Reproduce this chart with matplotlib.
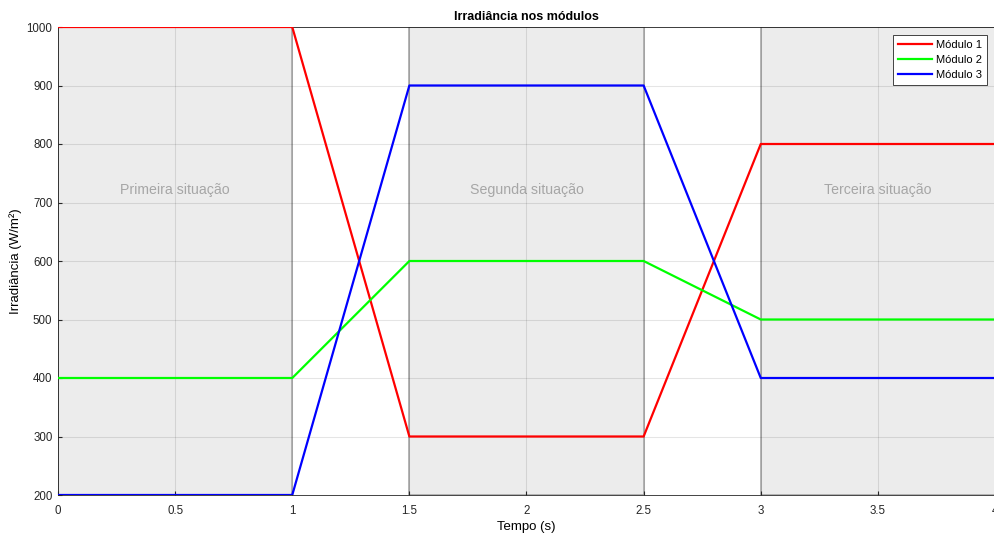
import matplotlib
matplotlib.use("Agg")
import matplotlib.pyplot as plt

plt.rcParams['font.family'] = ['Liberation Sans', 'DejaVu Sans']

# data
tempo = [0, 1, 1.5, 2.5, 3, 4]
modulo1 = [1000, 1000, 300, 300, 800, 800]
modulo2 = [400, 400, 600, 600, 500, 500]
modulo3 = [200, 200, 900, 900, 400, 400]

regioes = [(0, 1), (1.5, 2.5), (3, 4)]
situacoes = ['Primeira situação', 'Segunda situação', 'Terceira situação']

fig = plt.figure(figsize=(9.95, 5.34), dpi=100)
ax = fig.add_axes([58 / 995, 1 - 495 / 534, 1 - 58 / 995, (495 - 27) / 534])

for (a, b), nome in zip(regioes, situacoes):
    ax.axvspan(a, b, facecolor='#ececec', edgecolor='#a8a8a8', linewidth=1.2, zorder=0)
    ax.text((a + b) / 2, 722, nome, ha='center', va='center', fontsize=10.2,
            color='#a6a6a6', zorder=1)

ax.plot(tempo, modulo1, color='#ff0000', linewidth=1.6, label='Módulo 1', zorder=3)
ax.plot(tempo, modulo2, color='#00ff00', linewidth=1.6, label='Módulo 2', zorder=3)
ax.plot(tempo, modulo3, color='#0000ff', linewidth=1.6, label='Módulo 3', zorder=3)

ax.set_xlim(0, 4)
ax.set_ylim(200, 1000)
ax.set_xticks([0, 0.5, 1, 1.5, 2, 2.5, 3, 3.5, 4])
ax.set_xticklabels(['0', '0.5', '1', '1.5', '2', '2.5', '3', '3.5', '4'])
ax.set_yticks(range(200, 1001, 100))
ax.grid(True, color='#000000', alpha=0.1, linewidth=0.8, zorder=2)
ax.set_axisbelow(False)
ax.tick_params(labelsize=8.3, length=3, direction='in', colors='#262626')
ax.tick_params(axis='x', pad=7)
ax.tick_params(axis='y', pad=4)
for s in ax.spines.values():
    s.set_color('#262626')
    s.set_linewidth(0.6)

ax.set_title('Irradiância nos módulos', fontsize=9, fontweight='bold', pad=5)
ax.set_xlabel('Tempo (s)', fontsize=9.5, labelpad=3)
ax.set_ylabel('Irradiância (W/m²)', fontsize=9.5, labelpad=3)

leg = ax.legend(loc='upper right', fontsize=8, frameon=True, fancybox=False,
                edgecolor='#262626', framealpha=1, handlelength=3.0,
                borderaxespad=0.7, labelspacing=0.45, handletextpad=0.4,
                borderpad=0.45)
leg.get_frame().set_linewidth(0.6)
leg.set_zorder(5)

fig.savefig('out.png', dpi=100)
